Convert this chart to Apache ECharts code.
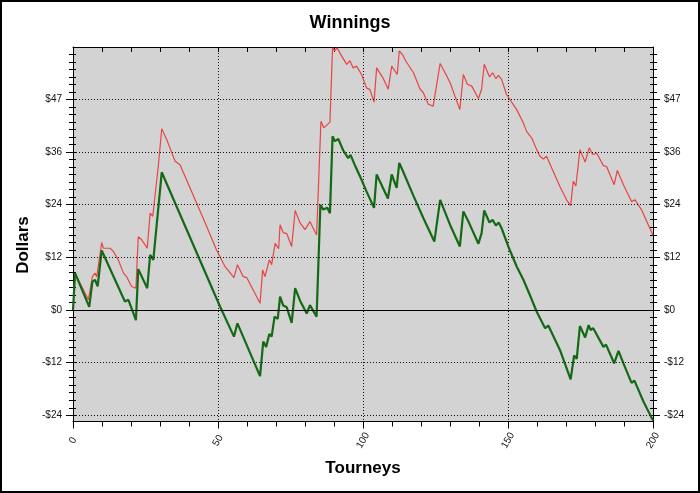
<!DOCTYPE html>
<html><head><meta charset="utf-8">
<script src="https://cdn.jsdelivr.net/npm/echarts@6/dist/echarts.min.js"></script>
<style>html,body{margin:0;padding:0;background:#fff}#c{width:700px;height:493px}</style>
</head><body><div id="c"></div>
<script>
const chartTitle = 'Winnings';
const xName = 'Tourneys';
const yName = 'Dollars';
const yTickValues = [-23.7, -11.85, 0, 11.85, 23.7, 35.55, 47.4];
const yTickLabels = ['-$24', '-$12', '$0', '$12', '$24', '$36', '$47'];

const redTourney = [0,0.7,5.3,6.7,7.6,8.2,9.9,10.5,12.8,13.9,15.6,17.4,18.5,20.2,21.7,22.5,23.7,25.6,26.6,27.5,29.4,30.6,32.3,35.2,36.9,42.6,46.1,49.5,52.4,55.5,56.7,58.7,59.9,64.5,65.4,66.2,67.7,68.5,69.7,70.9,71.4,72.5,73.7,75.4,76.6,78.3,80.0,81.7,84.0,85.5,86.5,88.6,89.5,90.3,91.1,92.6,94.4,95.5,96.6,97.8,99.5,101.2,102.4,103.8,104.7,106.9,108.7,109.9,111.8,112.5,113.6,114.7,117.4,119.7,120.8,122.5,124.2,124.8,126.6,128.3,130.0,133.4,134.6,136.0,137.5,139.8,140.9,141.8,143.6,144.7,145.8,146.7,147.8,149.5,153.0,155.3,156.4,158.2,159.9,161.0,162.2,163.3,165.6,167.9,170.2,171.6,172.5,173.4,174.8,176.6,178.0,179.2,180.6,182.9,184.0,186.6,187.7,189.8,192.6,193.8,196.0,200.0];
const redDollars = [0,8.3,2.3,7.5,8.3,7.5,15.2,13.9,13.9,13.2,11.3,8.3,7.5,5.3,4.9,16.5,15.8,13.9,21.8,21.1,32.3,40.8,38.4,33.5,32.7,24.1,18.8,13.5,9.8,7.3,10.2,7.5,7.3,1.5,9.0,7.5,11.3,10.2,15.0,13.8,19.2,17.4,17.2,14.3,22.4,19.6,18.1,19.9,16.9,42.5,41.0,42.3,59.0,58.4,59.0,57.2,55.3,56.1,54.5,54.9,53.0,50.0,49.6,46.8,54.5,52.2,49.7,54.9,53.0,58.3,57.5,56.1,53.4,49.7,48.9,46.3,45.9,45.9,55.5,53.4,51.2,45.1,53.0,50.8,50.4,47.6,49.7,55.3,52.5,53.4,52.1,52.8,51.9,48.5,45.1,42.1,40.2,38.7,36.1,34.6,34.0,34.6,31.2,27.8,24.8,23.5,29.0,27.9,36.1,33.3,36.5,35.0,35.3,32.5,32.3,28.2,31.4,28.2,24.4,24.8,22.6,16.8];

const greenTourney = [0,0.7,5.6,6.7,7.6,8.5,9.9,17.9,19.1,21.7,22.5,25.6,26.6,27.7,30.6,50.7,55.5,56.7,64.5,65.6,66.6,67.7,68.5,69.5,70.6,71.4,72.5,73.7,75.4,76.6,78.3,80.6,81.7,84.0,85.3,86.3,87.7,88.6,89.5,90.3,91.5,93.2,94.9,95.7,97.2,99.5,101.2,103.8,104.7,108.6,109.9,111.6,112.5,113.6,117.4,120.8,124.6,126.6,130.0,133.4,134.6,136.3,139.8,140.9,141.8,143.6,144.7,145.8,146.8,147.8,150.1,153.0,155.3,157.4,159.9,162.8,163.9,167.9,171.6,172.8,173.7,174.8,176.6,177.8,178.5,179.4,182.9,183.8,186.6,188.1,189.8,192.6,193.6,196.7,200.0];
const greenDollars = [0,8.3,0.7,6.4,6.8,5.3,13.4,1.9,2.3,-2.3,9.2,4.9,12.4,11.3,31.0,0.8,-6.0,-3.0,-14.9,-7.1,-8.3,-5.4,-6.0,-1.5,-2.0,3.0,1.0,0.6,-2.9,4.9,2.1,-0.8,1.1,-1.5,23.7,22.6,23.0,21.8,39.1,38.0,38.5,35.9,34.2,34.9,32.6,29.3,26.7,23.0,30.5,25.1,30.5,27.5,33.1,31.5,25.7,20.7,15.4,24.8,19.2,14.3,22.2,20.0,14.9,17.3,22.4,19.7,20.3,19.0,19.7,18.4,14.3,9.8,6.8,3.6,-0.4,-4.1,-3.5,-9.0,-15.6,-10.2,-11.0,-3.6,-6.2,-3.4,-4.5,-4.1,-8.3,-7.8,-12.0,-9.2,-12.0,-16.4,-15.9,-20.6,-24.9];

const Y_MIN = -25.1, Y_MAX = 59.2;
const FONT = 'Liberation Sans, Arial, sans-serif';

const redData = redTourney.map((t, i) => [t, redDollars[i]]);
const greenData = greenTourney.map((t, i) => [t, greenDollars[i]]);

const majorStep = yTickValues[1] - yTickValues[0];
const minorTicks = [];
for (let k = Math.ceil((Y_MIN - yTickValues[0]) * 7 / majorStep); ; k++) {
  const v = yTickValues[0] + k * majorStep / 7;
  if (v > Y_MAX) break;
  if (v >= Y_MIN && k % 7 !== 0) minorTicks.push(+v.toFixed(4));
}
const allTicks = minorTicks.concat(yTickValues).sort((a, b) => a - b);

function yLabel(v) {
  let best = 0, bd = Infinity;
  yTickValues.forEach((t, i) => { const d = Math.abs(t - v); if (d < bd) { bd = d; best = i; } });
  return yTickLabels[best];
}

const black = '#000';
function tickAxis(pos, values, len, inside, showLine, labels) {
  return {
    type: 'value', position: pos, min: Y_MIN, max: Y_MAX, gridIndex: 0,
    axisLine: { show: showLine, onZero: false, lineStyle: { color: black, width: 1 } },
    axisTick: { show: true, inside: inside, length: len, customValues: values, lineStyle: { color: black, width: 1 } },
    axisLabel: labels ? { show: true, customValues: yTickValues, formatter: yLabel, color: '#111', fontSize: 10, fontFamily: FONT, margin: 11 } : { show: false },
    splitLine: { show: false }
  };
}

const chart = echarts.init(document.getElementById('c'), null, { renderer: 'canvas' });
chart.setOption({
  animation: false,
  backgroundColor: '#fff',
  title: { text: chartTitle, left: 'center', top: 9, textStyle: { fontSize: 18, fontWeight: 'bold', fontFamily: FONT, color: '#000' } },
  grid: { left: 73, top: 47, width: 580, height: 374.5, show: true, backgroundColor: '#d3d3d3', borderWidth: 0 },
  xAxis: [
    {
      type: 'value', position: 'bottom', min: 0, max: 200, interval: 50,
      name: xName, nameLocation: 'middle', nameGap: 38,
      nameTextStyle: { fontSize: 17, fontWeight: 'bold', fontFamily: FONT, color: '#000' },
      axisLine: { show: true, onZero: false, lineStyle: { color: black, width: 1 } },
      axisTick: { show: true, length: 7, lineStyle: { color: black } },
      minorTick: { show: true, splitNumber: 5, length: 5, lineStyle: { color: black } },
      axisLabel: { rotate: 60, align: 'center', verticalAlign: 'middle', fontSize: 10, fontFamily: FONT, color: '#111', margin: 19 },
      splitLine: { show: true, lineStyle: { color: '#111', type: [1, 2], width: 1 } }
    },
    {
      type: 'value', position: 'top', min: 0, max: 200, interval: 10,
      axisLine: { show: true, onZero: false, lineStyle: { color: black, width: 1 } },
      axisTick: { show: true, inside: true, length: 5, lineStyle: { color: black } },
      axisLabel: { show: false }, splitLine: { show: false }
    }
  ],
  yAxis: [
    tickAxis('left', yTickValues, 7, false, true, true),
    tickAxis('right', yTickValues, 7, false, true, true),
    tickAxis('left', minorTicks, 4, false, false, false),
    tickAxis('right', minorTicks, 4, false, false, false),
    tickAxis('left', allTicks, 3, true, false, false),
    tickAxis('right', allTicks, 3, true, false, false)
  ],
  graphic: [
    { type: 'rect', shape: { x: 1, y: 1, width: 698, height: 491 }, style: { fill: 'none', stroke: '#000', lineWidth: 2 }, silent: true },
    { type: 'text', x: 23, y: 245, rotation: Math.PI / 2, style: { text: yName, font: 'bold 17px ' + FONT, fill: '#000', align: 'center', verticalAlign: 'middle' }, silent: true }
  ],
  series: [
    {
      name: 'grid', type: 'line', data: [], xAxisIndex: 0, yAxisIndex: 0, z: 1, silent: true,
      markLine: {
        silent: true, symbol: 'none', label: { show: false }, animation: false,
        data: yTickValues.filter(v => v !== 0).map(v => ({ yAxis: v, lineStyle: { color: '#111', type: [1, 2], width: 1 } }))
          .concat([{ yAxis: 0, lineStyle: { color: '#000', type: 'solid', width: 1 } }])
      }
    },
    {
      name: 'Red', type: 'line', data: redData, xAxisIndex: 0, yAxisIndex: 0, z: 3,
      showSymbol: false, symbol: 'none', lineStyle: { color: '#e84444', width: 1.2 }
    },
    {
      name: 'Green', type: 'line', data: greenData, xAxisIndex: 0, yAxisIndex: 0, z: 4,
      showSymbol: false, symbol: 'none', lineStyle: { color: '#146914', width: 2.2 }
    }
  ]
});
</script>
</body></html>
